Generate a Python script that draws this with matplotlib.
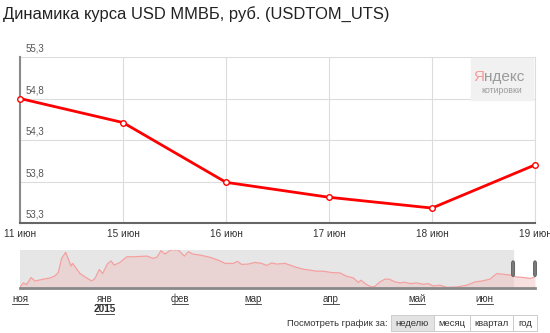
import numpy as np
from matplotlib import pyplot as plt
from matplotlib.patches import Rectangle, FancyBboxPatch
import matplotlib.transforms as mtransforms

plt.rcParams['font.family'] = ['Liberation Sans', 'DejaVu Sans']

# main chart data
days = ['11 июн', '15 июн', '16 июн', '17 июн', '18 июн', '19 июн']
rate = [54.80, 54.51, 53.79, 53.61, 53.48, 54.00]
y_ticks = [53.3, 53.8, 54.3, 54.8, 55.3]

# navigator data (time in approx. days from start, rate in rub)
nav_t = [0, 1.5, 3.0, 4.9, 6.7, 10.4, 13.4, 15.6, 17.1, 18.6, 20.4, 22.8, 23.5,
         26.8, 29.8, 32.0, 33.5, 35.4, 36.9, 39.0, 40.6, 42.1, 44.7, 47.7, 50.6,
         56.6, 59.5, 61.1, 63.0, 64.8, 67.3, 70.7, 73.4, 75.2, 77.1, 80.4, 84.9,
         89.3, 91.6, 95.3, 97.1, 99.0, 102.0, 104.9, 107.9, 110.2, 112.4, 114.6,
         118.4, 120.6, 123.6, 126.5, 132.5, 135.5, 139.2, 142.9, 145.9, 148.9,
         151.1, 152.2, 154.8, 157.1, 158.5, 160.8, 163.0, 164.9, 167.5, 169.7,
         171.9, 174.2, 177.2, 180.1, 182.3, 184.6, 187.6, 190.6, 195.0, 199.5,
         203.2, 206.2, 209.9, 212.9, 215.8, 219.6, 221.8, 224.8, 227.8, 230.0]
nav_v = [48.2, 50.6, 49.6, 53.8, 51.7, 52.8, 53.5, 54.7, 56.7, 65.1, 68.6, 60.5, 62.1,
         56.1, 53.5, 51.7, 53.2, 58.5, 56.1, 61.7, 63.6, 61.1, 62.7, 66.0, 66.0,
         66.4, 65.1, 65.7, 69.6, 67.6, 70.0, 70.0, 66.4, 69.0, 67.6, 67.0, 65.7,
         63.6, 62.1, 62.1, 63.3, 61.5, 61.7, 62.7, 62.1, 60.9, 62.4, 61.7,
         62.1, 61.1, 59.7, 58.7, 57.5, 57.5, 56.7, 56.5, 54.5, 53.5,
         50.8, 52.2, 49.6, 48.2, 48.6, 51.2, 52.8, 52.8, 51.2, 50.6,
         51.0, 50.2, 50.6, 49.8, 50.2, 48.8, 49.2, 48.0, 48.2, 49.2,
         51.2, 51.7, 52.8, 56.1, 55.7, 55.1, 54.1, 53.8, 53.2, 54.1]
month_pos = [0, 38.0, 71.4, 104.1, 138.9, 177.3, 207.6]
month_lbl = ['ноя', 'янв', 'фев', 'мар', 'апр', 'май', 'июн']
sel_start, sel_end = 220.2, 230.0

periods = ['неделю', 'месяц', 'квартал', 'год']

fig = plt.figure(figsize=(5.5, 3.33), dpi=100)
fig.text(0.006, 0.957, 'Динамика курса USD ММВБ, руб. (USDTOM_UTS)',
         fontsize=11.9, color='#222222', va='center', ha='left')

# main chart
ax = fig.add_axes([20/550, 1-223/333, 515/550, 166/333])
x = np.arange(len(days))
ax.plot(x, rate, color='#ff0000', lw=2.0, zorder=3, clip_on=False,
        marker='o', ms=4, mfc='white', mec='#ff0000', mew=1.0)
ax.set_xlim(0, len(days)-1)
ax.set_ylim(y_ticks[0], y_ticks[-1])
ax.set_xticks(x)
ax.set_xticklabels(days, fontsize=7.2, color='#333333')
ax.set_yticks(y_ticks)
ax.set_yticklabels([])
ax.tick_params(length=0, pad=4)
ax.grid(True, color='#dcdcdc', lw=0.8)
ax.spines['top'].set_visible(False)
ax.spines['right'].set_color('#dcdcdc')
ax.spines['right'].set_linewidth(0.8)
ax.spines['left'].set_color('#8a8a8a')
ax.spines['left'].set_linewidth(1.5)
ax.spines['bottom'].set_color('#666666')
ax.spines['bottom'].set_linewidth(1.5)
trans = mtransforms.blended_transform_factory(ax.transAxes, ax.transData)
for v in y_ticks:
    ax.text(0.010, v + 0.04, f'{v:.1f}'.replace('.', ','), transform=trans,
            fontsize=7, color='#555555', va='bottom', ha='left')

# yandex badge
fig.patches.append(Rectangle((471/550, 1-100/333), 62/550, 42/333,
                             transform=fig.transFigure, color='#f1f1f1', zorder=1))
fig.text(484/550, 1-77/333, 'Я', fontsize=11, color='#f59a9a', ha='right', va='center')
fig.text(484/550, 1-77/333, 'ндекс', fontsize=11, color='#9a9a9a', ha='left', va='center')
fig.text(502/550, 1-91/333, 'котировки', fontsize=6.3, color='#9a9a9a',
         ha='center', va='center')

# navigator
nav = fig.add_axes([20/550, 1-288/333, 515/550, 38/333])
nav.set_xlim(0, sel_end)
nav.set_ylim(47.6, 70.0)
nav.axvspan(0, sel_start, color='#e6e6e6', zorder=0)
nav.fill_between(nav_t, nav_v, 47.6, color='#f0bcbc', alpha=0.45, lw=0, zorder=1)
nav.plot(nav_t, nav_v, color='#f4a0a0', lw=0.9, zorder=2)
nav.set_xticks(month_pos)
nav.set_xticklabels(month_lbl, fontsize=7, color='#333333')
nav.set_yticks([])
nav.tick_params(length=0, pad=4)
for s in ['top', 'left', 'right']:
    nav.spines[s].set_visible(False)
nav.spines['bottom'].set_color('#888888')
nav.spines['bottom'].set_linewidth(2.0)
nav.axvline(sel_end, color='#dddddd', lw=0.8)
for hx in [sel_start, sel_end]:
    nav.add_patch(FancyBboxPatch((hx, 56.5), 0.0, 5.0,
                                 boxstyle='round,pad=0.7,rounding_size=0.6',
                                 mutation_aspect=3.0, fc='#7a7a7a', ec='#5a5a5a',
                                 lw=0.6, zorder=4, clip_on=False))
# underline month labels
ntrans = mtransforms.blended_transform_factory(nav.transData, fig.transFigure)
for p, lbl in zip(month_pos, month_lbl):
    nav.plot([p - 3.6, p + 3.6], [1-304/333]*2, transform=ntrans,
             color='#333333', lw=0.6, clip_on=False)
fig.text((105)/550, 1-309/333, '2015', fontsize=7.2, color='#333333',
         ha='center', va='center', fontweight='bold')
nav.plot([38.0 - 4.2, 38.0 + 4.2], [1-314/333]*2, transform=ntrans,
         color='#333333', lw=0.6, clip_on=False)

# period buttons
fig.text(388/550, 1-323/333, 'Посмотреть график за:', fontsize=6.8,
         color='#333333', ha='right', va='center')
edges = [391, 434, 470, 513, 537]
for i, lbl in enumerate(periods):
    x0, x1 = edges[i], edges[i+1]
    fig.patches.append(Rectangle((x0/550, 1-331/333), (x1-x0)/550, 16/333,
                                 transform=fig.transFigure,
                                 fc='#e3e3e3' if i == 0 else 'white',
                                 ec='#cccccc', lw=0.7))
    fig.text((x0+x1)/2/550, 1-323/333, lbl, fontsize=6.8, color='#333333',
             ha='center', va='center')

plt.savefig('out.png', dpi=100)
